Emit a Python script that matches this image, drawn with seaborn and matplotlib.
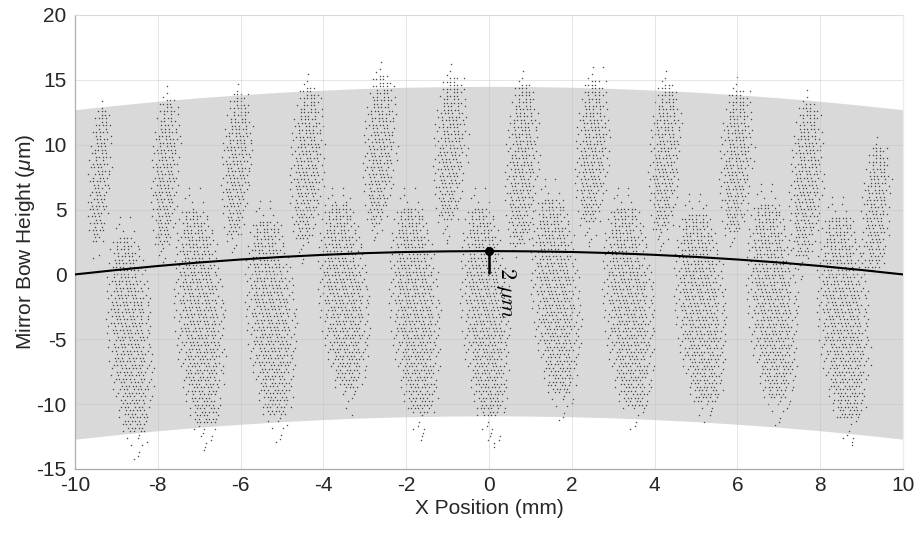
import numpy as np
import pandas as pd
import matplotlib
matplotlib.use("Agg")
import matplotlib.pyplot as plt
import seaborn as sns

# ---------------- data ----------------
curve_x = [-10, -9, -8, -7, -6, -5, -4, -3, -2, -1, 0, 1, 2, 3, 4, 5, 6, 7, 8, 9, 10]
curve_y = [0.0, 0.34, 0.65, 0.92, 1.15, 1.35, 1.51, 1.64, 1.73, 1.78, 1.80,
           1.78, 1.73, 1.64, 1.51, 1.35, 1.15, 0.92, 0.65, 0.34, 0.0]
band_upper = [12.70, 13.04, 13.35, 13.62, 13.85, 14.05, 14.21, 14.34, 14.43, 14.48, 14.50,
              14.48, 14.43, 14.34, 14.21, 14.05, 13.85, 13.62, 13.35, 13.04, 12.70]
band_lower = [-12.70, -12.36, -12.05, -11.78, -11.55, -11.35, -11.19, -11.06, -10.97, -10.92, -10.90,
              -10.92, -10.97, -11.06, -11.19, -11.35, -11.55, -11.78, -12.05, -12.36, -12.70]

# point clusters (upper "high" stripes and lower "low" stripes)
high_center = [-9.42, -7.82, -6.10, -4.41, -2.65, -0.95, 0.78, 2.48, 4.24, 5.96, 7.65, 9.34]
high_halfw = [0.26, 0.34, 0.36, 0.40, 0.39, 0.39, 0.39, 0.40, 0.38, 0.39, 0.39, 0.34]
high_top = [14.2, 15.3, 15.5, 16.3, 17.2, 17.0, 16.5, 16.8, 16.5, 16.0, 15.0, 11.4]
high_bottom = [1.0, 0.6, 1.4, 0.85, 2.2, 2.4, 0.6, 2.2, 1.6, 1.6, -0.5, -1.2]

low_center = [-8.68, -7.00, -5.28, -3.52, -1.80, -0.10, 1.60, 3.37, 5.10, 6.83, 8.55]
low_halfw = [0.55, 0.60, 0.60, 0.60, 0.60, 0.58, 0.58, 0.62, 0.62, 0.60, 0.62]
low_top = [5.2, 7.5, 6.5, 7.5, 7.5, 7.5, 8.2, 7.5, 7.0, 7.8, 6.8]
low_bottom = [-14.5, -14.0, -13.0, -11.0, -13.0, -13.5, -11.5, -12.5, -12.0, -12.0, -13.5]

x_ticks = [-10, -8, -6, -4, -2, 0, 2, 4, 6, 8, 10]
y_ticks = [-15, -10, -5, 0, 5, 10, 15, 20]

peak_x, peak_y = 0.0, 1.80
note_text = r"$2\ \mu m$"

# ---------------- build scatter texture (regular lattice inside each stripe) ----------------
DX, DY = 0.085, 0.27


def cluster(cx, hw, ytop, ybot, tilt):
    xs_all, ys_all = [], []
    n = int((ytop - ybot) / DY)
    for k in range(n + 1):
        y = ytop - k * DY
        t = (ytop - y) / (ytop - ybot)
        s = max(np.sin(np.pi * t), 0.0)
        w = hw * s ** 0.65
        c = cx + tilt * (t - 0.5)
        off = (k % 4) * DX / 4
        m = int(2 * w / DX)
        for i in range(m + 1):
            xx = c - w + off + i * DX
            rel = abs(xx - c) / max(w, 1e-6)
            # sparser toward the edges and the ends of a stripe
            if rel > 0.65 and (i + k) % 2:
                continue
            if s < 0.35 and (i + k) % 3:
                continue
            if (i * 3 + k * 2) % 7 == 0:
                continue
            xs_all.append(xx)
            ys_all.append(y)
    return xs_all, ys_all


px, py = [], []
for c, w, t, b in zip(high_center, high_halfw, high_top, high_bottom):
    a, d = cluster(c, w, t, b, -0.2)
    px += a
    py += d
for c, w, t, b in zip(low_center, low_halfw, low_top, low_bottom):
    a, d = cluster(c, w, t, b, 0.35)
    px += a
    py += d

pts = pd.DataFrame({"x": px, "y": py})
curve = pd.DataFrame({"x": curve_x, "y": curve_y})

# ---------------- plot ----------------
sns.set_theme(style="white")
plt.rcParams["font.family"] = ["Liberation Sans", "DejaVu Sans"]
plt.rcParams["mathtext.fontset"] = "custom"
plt.rcParams["mathtext.rm"] = "Liberation Sans"
plt.rcParams["mathtext.it"] = "Liberation Sans:italic"

fig = plt.figure(figsize=(9.17, 5.35), dpi=100)
ax = fig.add_axes([75 / 917, (535 - 469) / 535, (903 - 75) / 917, (469 - 15) / 535])

ax.fill_between(curve_x, band_lower, band_upper, color="#d9d9d9", lw=0, zorder=1)
sns.scatterplot(data=pts, x="x", y="y", s=1.1, color="#2e2e2e", linewidth=0,
                alpha=0.85, ax=ax, zorder=2, legend=False)
sns.lineplot(data=curve, x="x", y="y", color="black", lw=1.5, ax=ax, zorder=4)
ax.plot([peak_x, peak_x], [0.1, peak_y], color="black", lw=1.8, zorder=4)
ax.plot([peak_x], [peak_y], "o", color="black", ms=5.5, zorder=5)
ax.text(0.12, 0.55, note_text, rotation=-90, ha="left", va="top", fontsize=16,
        math_fontfamily="cm", color="black", zorder=6)

ax.set_xlim(-10, 10)
ax.set_ylim(-15, 20)
ax.set_xticks(x_ticks)
ax.set_yticks(y_ticks)
ax.set_xticklabels([str(v) for v in x_ticks])
ax.set_yticklabels([str(v) for v in y_ticks])
ax.grid(True, color="#bdbdbd", lw=0.6, alpha=0.45)
ax.set_axisbelow(False)

ax.set_xlabel("X Position (mm)", fontsize=15, color="#262626", labelpad=3)
ax.set_ylabel(r"Mirror Bow Height ($\mu$m)", fontsize=15, color="#262626")
ax.yaxis.set_label_coords(-0.046, 0.5)

ax.tick_params(axis="both", direction="in", length=5, width=0.8, color="#9a9a9a",
               labelsize=15, labelcolor="#262626")
ax.tick_params(axis="x", pad=5)
ax.tick_params(axis="y", pad=6)
for s in ["left", "bottom"]:
    ax.spines[s].set_color("#a8a8a8")
    ax.spines[s].set_linewidth(0.9)
for s in ["top", "right"]:
    ax.spines[s].set_color("#ececec")
    ax.spines[s].set_linewidth(0.9)

fig.savefig("out.png", dpi=100)
